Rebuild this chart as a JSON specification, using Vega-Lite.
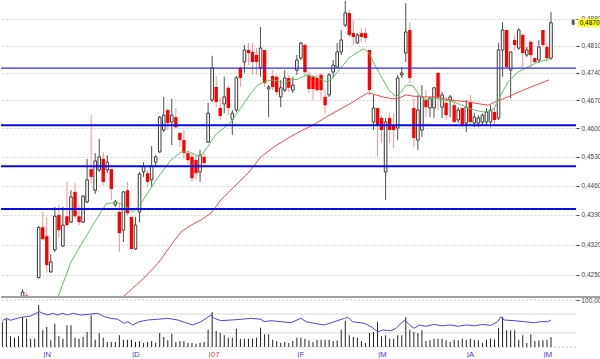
{
  "$schema": "https://vega.github.io/schema/vega-lite/v6.json",
  "padding": 0,
  "background": "white",
  "spacing": 3,
  "bounds": "flush",
  "config": {
    "view": {"stroke": null},
    "font": "Liberation Sans",
    "locale": {"number": {"decimal": ",", "thousands": ".", "grouping": [3], "currency": ["", ""]}}
  },
  "datasets": {
    "bars": [
      {"i":0,"o":0.4160,"h":0.4170,"l":0.4150,"c":0.4165,"v":2500},
      {"i":1,"o":0.4165,"h":0.4178,"l":0.4158,"c":0.4172,"v":2830},
      {"i":2,"o":0.4172,"h":0.4180,"l":0.4162,"c":0.4168,"v":1070},
      {"i":3,"o":0.4168,"h":0.4182,"l":0.4160,"c":0.4178,"v":930},
      {"i":4,"o":0.4178,"h":0.4190,"l":0.4170,"c":0.4185,"v":1070},
      {"i":5,"o":0.4185,"h":0.4218,"l":0.4180,"c":0.4211,"v":3000},
      {"i":6,"o":0.4203,"h":0.4209,"l":0.4180,"c":0.4188,"v":2830},
      {"i":7,"o":0.4188,"h":0.4195,"l":0.4175,"c":0.4190,"v":830},
      {"i":8,"o":0.4190,"h":0.4196,"l":0.4178,"c":0.4185,"v":830},
      {"i":9,"o":0.4244,"h":0.4364,"l":0.4242,"c":0.4360,"v":4170},
      {"i":10,"o":0.4361,"h":0.4397,"l":0.4331,"c":0.4333,"v":1670},
      {"i":11,"o":0.4340,"h":0.4385,"l":0.4255,"c":0.4273,"v":2000},
      {"i":12,"o":0.4257,"h":0.4298,"l":0.4255,"c":0.4280,"v":670},
      {"i":13,"o":0.4308,"h":0.4409,"l":0.4303,"c":0.4387,"v":2330},
      {"i":14,"o":0.4390,"h":0.4414,"l":0.4336,"c":0.4354,"v":1070},
      {"i":15,"o":0.4317,"h":0.4409,"l":0.4315,"c":0.4366,"v":830},
      {"i":16,"o":0.4387,"h":0.4469,"l":0.4361,"c":0.4366,"v":2170},
      {"i":17,"o":0.4373,"h":0.4449,"l":0.4371,"c":0.4433,"v":2170},
      {"i":18,"o":0.4445,"h":0.4466,"l":0.4383,"c":0.4387,"v":930},
      {"i":19,"o":0.4387,"h":0.4414,"l":0.4366,"c":0.4373,"v":830},
      {"i":20,"o":0.4373,"h":0.4437,"l":0.4371,"c":0.4435,"v":1000},
      {"i":21,"o":0.4421,"h":0.4525,"l":0.4418,"c":0.4474,"v":1500},
      {"i":22,"o":0.4500,"h":0.4633,"l":0.4466,"c":0.4481,"v":3170},
      {"i":23,"o":0.4449,"h":0.4539,"l":0.4440,"c":0.4520,"v":730},
      {"i":24,"o":0.4498,"h":0.4574,"l":0.4493,"c":0.4530,"v":1400},
      {"i":25,"o":0.4525,"h":0.4542,"l":0.4461,"c":0.4469,"v":930},
      {"i":26,"o":0.4498,"h":0.4534,"l":0.4490,"c":0.4517,"v":500},
      {"i":27,"o":0.4500,"h":0.4500,"l":0.4425,"c":0.4452,"v":500},
      {"i":28,"o":0.4414,"h":0.4426,"l":0.4409,"c":0.4421,"v":500},
      {"i":29,"o":0.4397,"h":0.4418,"l":0.4303,"c":0.4347,"v":1170},
      {"i":30,"o":0.4354,"h":0.4447,"l":0.4326,"c":0.4445,"v":730},
      {"i":31,"o":0.4449,"h":0.4469,"l":0.4390,"c":0.4394,"v":730},
      {"i":32,"o":0.4385,"h":0.4387,"l":0.4308,"c":0.4310,"v":730},
      {"i":33,"o":0.4310,"h":0.4385,"l":0.4308,"c":0.4366,"v":500},
      {"i":34,"o":0.4397,"h":0.4493,"l":0.4373,"c":0.4488,"v":570},
      {"i":35,"o":0.4493,"h":0.4517,"l":0.4481,"c":0.4507,"v":400},
      {"i":36,"o":0.4490,"h":0.4498,"l":0.4457,"c":0.4469,"v":500},
      {"i":37,"o":0.4474,"h":0.4556,"l":0.4457,"c":0.4507,"v":600},
      {"i":38,"o":0.4517,"h":0.4534,"l":0.4507,"c":0.4530,"v":430},
      {"i":39,"o":0.4542,"h":0.4631,"l":0.4539,"c":0.4628,"v":1400},
      {"i":40,"o":0.4596,"h":0.4679,"l":0.4591,"c":0.4633,"v":1000},
      {"i":41,"o":0.4646,"h":0.4651,"l":0.4596,"c":0.4613,"v":670},
      {"i":42,"o":0.4616,"h":0.4674,"l":0.4559,"c":0.4633,"v":1330},
      {"i":43,"o":0.4628,"h":0.4651,"l":0.4601,"c":0.4603,"v":500},
      {"i":44,"o":0.4589,"h":0.4591,"l":0.4554,"c":0.4571,"v":600},
      {"i":45,"o":0.4571,"h":0.4596,"l":0.4527,"c":0.4539,"v":570},
      {"i":46,"o":0.4539,"h":0.4547,"l":0.4510,"c":0.4522,"v":430},
      {"i":47,"o":0.4530,"h":0.4539,"l":0.4469,"c":0.4478,"v":400},
      {"i":48,"o":0.4522,"h":0.4534,"l":0.4474,"c":0.4490,"v":330},
      {"i":49,"o":0.4493,"h":0.4547,"l":0.4469,"c":0.4534,"v":430},
      {"i":50,"o":0.4530,"h":0.4539,"l":0.4507,"c":0.4515,"v":500},
      {"i":51,"o":0.4566,"h":0.4664,"l":0.4564,"c":0.4638,"v":1730},
      {"i":52,"o":0.4671,"h":0.4784,"l":0.4666,"c":0.4753,"v":3500},
      {"i":53,"o":0.4704,"h":0.4732,"l":0.4653,"c":0.4666,"v":1600},
      {"i":54,"o":0.4651,"h":0.4676,"l":0.4621,"c":0.4631,"v":1400},
      {"i":55,"o":0.4661,"h":0.4730,"l":0.4638,"c":0.4679,"v":1170},
      {"i":56,"o":0.4702,"h":0.4707,"l":0.4633,"c":0.4651,"v":930},
      {"i":57,"o":0.4623,"h":0.4646,"l":0.4584,"c":0.4638,"v":930},
      {"i":58,"o":0.4646,"h":0.4732,"l":0.4641,"c":0.4727,"v":1830},
      {"i":59,"o":0.4753,"h":0.4758,"l":0.4704,"c":0.4727,"v":830},
      {"i":60,"o":0.4768,"h":0.4812,"l":0.4740,"c":0.4799,"v":830},
      {"i":61,"o":0.4799,"h":0.4817,"l":0.4760,"c":0.4791,"v":830},
      {"i":62,"o":0.4794,"h":0.4817,"l":0.4735,"c":0.4768,"v":830},
      {"i":63,"o":0.4786,"h":0.4804,"l":0.4735,"c":0.4768,"v":930},
      {"i":64,"o":0.4753,"h":0.4859,"l":0.4730,"c":0.4804,"v":1930},
      {"i":65,"o":0.4799,"h":0.4799,"l":0.4704,"c":0.4714,"v":1270},
      {"i":66,"o":0.4699,"h":0.4709,"l":0.4628,"c":0.4704,"v":1270},
      {"i":67,"o":0.4732,"h":0.4747,"l":0.4696,"c":0.4704,"v":730},
      {"i":68,"o":0.4730,"h":0.4735,"l":0.4684,"c":0.4691,"v":600},
      {"i":69,"o":0.4679,"h":0.4722,"l":0.4653,"c":0.4702,"v":430},
      {"i":70,"o":0.4696,"h":0.4747,"l":0.4691,"c":0.4727,"v":500},
      {"i":71,"o":0.4727,"h":0.4735,"l":0.4691,"c":0.4702,"v":400},
      {"i":72,"o":0.4696,"h":0.4730,"l":0.4689,"c":0.4709,"v":600},
      {"i":73,"o":0.4747,"h":0.4786,"l":0.4735,"c":0.4773,"v":930},
      {"i":74,"o":0.4778,"h":0.4820,"l":0.4773,"c":0.4817,"v":930},
      {"i":75,"o":0.4812,"h":0.4817,"l":0.4730,"c":0.4742,"v":830},
      {"i":76,"o":0.4735,"h":0.4742,"l":0.4689,"c":0.4699,"v":670},
      {"i":77,"o":0.4730,"h":0.4735,"l":0.4671,"c":0.4699,"v":500},
      {"i":78,"o":0.4727,"h":0.4735,"l":0.4691,"c":0.4696,"v":730},
      {"i":79,"o":0.4735,"h":0.4740,"l":0.4671,"c":0.4696,"v":730},
      {"i":80,"o":0.4679,"h":0.4696,"l":0.4638,"c":0.4658,"v":730},
      {"i":81,"o":0.4684,"h":0.4740,"l":0.4679,"c":0.4735,"v":730},
      {"i":82,"o":0.4742,"h":0.4773,"l":0.4727,"c":0.4760,"v":600},
      {"i":83,"o":0.4755,"h":0.4817,"l":0.4753,"c":0.4794,"v":670},
      {"i":84,"o":0.4794,"h":0.4851,"l":0.4786,"c":0.4825,"v":1730},
      {"i":85,"o":0.4864,"h":0.4928,"l":0.4859,"c":0.4896,"v":2600},
      {"i":86,"o":0.4896,"h":0.4904,"l":0.4833,"c":0.4838,"v":1170},
      {"i":87,"o":0.4843,"h":0.4877,"l":0.4812,"c":0.4833,"v":1000},
      {"i":88,"o":0.4817,"h":0.4843,"l":0.4815,"c":0.4838,"v":930},
      {"i":89,"o":0.4843,"h":0.4856,"l":0.4820,"c":0.4833,"v":600},
      {"i":90,"o":0.4843,"h":0.4856,"l":0.4820,"c":0.4830,"v":400},
      {"i":91,"o":0.4799,"h":0.4799,"l":0.4684,"c":0.4696,"v":1400},
      {"i":92,"o":0.4616,"h":0.4684,"l":0.4596,"c":0.4651,"v":1500},
      {"i":93,"o":0.4651,"h":0.4651,"l":0.4530,"c":0.4608,"v":2500},
      {"i":94,"o":0.4626,"h":0.4633,"l":0.4564,"c":0.4596,"v":1070},
      {"i":95,"o":0.4493,"h":0.4626,"l":0.4426,"c":0.4616,"v":1170},
      {"i":96,"o":0.4626,"h":0.4638,"l":0.4564,"c":0.4596,"v":830},
      {"i":97,"o":0.4608,"h":0.4638,"l":0.4551,"c":0.4596,"v":830},
      {"i":98,"o":0.4601,"h":0.4735,"l":0.4571,"c":0.4727,"v":1170},
      {"i":99,"o":0.4735,"h":0.4755,"l":0.4727,"c":0.4740,"v":1170},
      {"i":100,"o":0.4791,"h":0.4922,"l":0.4768,"c":0.4846,"v":3000},
      {"i":101,"o":0.4851,"h":0.4872,"l":0.4714,"c":0.4727,"v":1730},
      {"i":102,"o":0.4651,"h":0.4676,"l":0.4554,"c":0.4576,"v":1500},
      {"i":103,"o":0.4571,"h":0.4684,"l":0.4547,"c":0.4646,"v":1400},
      {"i":104,"o":0.4596,"h":0.4709,"l":0.4579,"c":0.4679,"v":1670},
      {"i":105,"o":0.4671,"h":0.4696,"l":0.4628,"c":0.4653,"v":600},
      {"i":106,"o":0.4651,"h":0.4679,"l":0.4628,"c":0.4676,"v":670},
      {"i":107,"o":0.4651,"h":0.4704,"l":0.4626,"c":0.4702,"v":830},
      {"i":108,"o":0.4740,"h":0.4742,"l":0.4646,"c":0.4679,"v":830},
      {"i":109,"o":0.4653,"h":0.4691,"l":0.4626,"c":0.4684,"v":830},
      {"i":110,"o":0.4664,"h":0.4679,"l":0.4621,"c":0.4633,"v":670},
      {"i":111,"o":0.4671,"h":0.4684,"l":0.4628,"c":0.4679,"v":500},
      {"i":112,"o":0.4658,"h":0.4671,"l":0.4613,"c":0.4616,"v":730},
      {"i":113,"o":0.4621,"h":0.4653,"l":0.4613,"c":0.4646,"v":670},
      {"i":114,"o":0.4651,"h":0.4651,"l":0.4603,"c":0.4608,"v":830},
      {"i":115,"o":0.4613,"h":0.4671,"l":0.4591,"c":0.4653,"v":730},
      {"i":116,"o":0.4666,"h":0.4684,"l":0.4608,"c":0.4616,"v":830},
      {"i":117,"o":0.4613,"h":0.4638,"l":0.4603,"c":0.4628,"v":730},
      {"i":118,"o":0.4613,"h":0.4633,"l":0.4603,"c":0.4626,"v":670},
      {"i":119,"o":0.4616,"h":0.4638,"l":0.4608,"c":0.4633,"v":400},
      {"i":120,"o":0.4616,"h":0.4651,"l":0.4608,"c":0.4641,"v":730},
      {"i":121,"o":0.4616,"h":0.4658,"l":0.4603,"c":0.4646,"v":830},
      {"i":122,"o":0.4641,"h":0.4653,"l":0.4608,"c":0.4621,"v":730},
      {"i":123,"o":0.4626,"h":0.4817,"l":0.4621,"c":0.4799,"v":1930},
      {"i":124,"o":0.4799,"h":0.4872,"l":0.4730,"c":0.4851,"v":3000},
      {"i":125,"o":0.4851,"h":0.4851,"l":0.4753,"c":0.4755,"v":1670},
      {"i":126,"o":0.4747,"h":0.4794,"l":0.4676,"c":0.4794,"v":1670},
      {"i":127,"o":0.4825,"h":0.4838,"l":0.4799,"c":0.4812,"v":1670},
      {"i":128,"o":0.4804,"h":0.4856,"l":0.4799,"c":0.4851,"v":730},
      {"i":129,"o":0.4838,"h":0.4843,"l":0.4755,"c":0.4791,"v":1170},
      {"i":130,"o":0.4786,"h":0.4807,"l":0.4781,"c":0.4799,"v":400},
      {"i":131,"o":0.4820,"h":0.4825,"l":0.4755,"c":0.4786,"v":1270},
      {"i":132,"o":0.4778,"h":0.4781,"l":0.4765,"c":0.4768,"v":600},
      {"i":133,"o":0.4773,"h":0.4825,"l":0.4765,"c":0.4807,"v":670},
      {"i":134,"o":0.4851,"h":0.4851,"l":0.4807,"c":0.4812,"v":670},
      {"i":135,"o":0.4807,"h":0.4817,"l":0.4768,"c":0.4778,"v":730},
      {"i":136,"o":0.4778,"h":0.4898,"l":0.4773,"c":0.4870,"v":1000}
    ],
    "maFast": [
      {"i":12.5,"p":0.4160},{"i":13.8,"p":0.4200},{"i":17,"p":0.4280},{"i":20.2,"p":0.4331},{"i":23.2,"p":0.4378},{"i":25.7,"p":0.4416},{"i":28.2,"p":0.4421},{"i":30.4,"p":0.4411},{"i":32.4,"p":0.4397},{"i":34.4,"p":0.4418},{"i":36.8,"p":0.4454},{"i":39.3,"p":0.4490},{"i":41.8,"p":0.4522},{"i":44.3,"p":0.4542},{"i":46.3,"p":0.4542},{"i":48,"p":0.4534},{"i":49.2,"p":0.4532},{"i":51,"p":0.4556},{"i":53,"p":0.4586},{"i":54.9,"p":0.4601},{"i":56.7,"p":0.4616},{"i":58.4,"p":0.4641},{"i":60.1,"p":0.4666},{"i":61.6,"p":0.4689},{"i":63.4,"p":0.4709},{"i":64.9,"p":0.4717},{"i":66.6,"p":0.4722},{"i":68.3,"p":0.4719},{"i":70.1,"p":0.4714},{"i":71.5,"p":0.4722},{"i":73.3,"p":0.4724},{"i":75.3,"p":0.4735},{"i":77.7,"p":0.4730},{"i":80.2,"p":0.4717},{"i":81.9,"p":0.4727},{"i":83.9,"p":0.4753},{"i":85.9,"p":0.4778},{"i":87.7,"p":0.4791},{"i":89.6,"p":0.4802},{"i":90.9,"p":0.4791},{"i":92.6,"p":0.4755},{"i":94.4,"p":0.4722},{"i":95.8,"p":0.4696},{"i":97.6,"p":0.4679},{"i":98.8,"p":0.4691},{"i":100.1,"p":0.4709},{"i":101.8,"p":0.4707},{"i":103.3,"p":0.4684},{"i":105,"p":0.4671},{"i":107,"p":0.4676},{"i":109.5,"p":0.4671},{"i":112,"p":0.4666},{"i":114.4,"p":0.4656},{"i":116.9,"p":0.4646},{"i":119.4,"p":0.4641},{"i":121.1,"p":0.4643},{"i":122.1,"p":0.4653},{"i":123.6,"p":0.4684},{"i":125.3,"p":0.4717},{"i":127.8,"p":0.4742},{"i":130.3,"p":0.4755},{"i":132.8,"p":0.4768},{"i":134.8,"p":0.4773},{"i":135.8,"p":0.4778}
    ],
    "maSlow": [
      {"i":28,"p":0.4170},{"i":29.9,"p":0.4200},{"i":32.6,"p":0.4222},{"i":35.1,"p":0.4243},{"i":38.6,"p":0.4277},{"i":41.8,"p":0.4319},{"i":44.3,"p":0.4350},{"i":46.8,"p":0.4366},{"i":49.2,"p":0.4378},{"i":51.7,"p":0.4394},{"i":54.2,"p":0.4426},{"i":57.4,"p":0.4457},{"i":60.9,"p":0.4490},{"i":64.1,"p":0.4530},{"i":67.3,"p":0.4554},{"i":70.8,"p":0.4576},{"i":73.5,"p":0.4591},{"i":77,"p":0.4608},{"i":80.2,"p":0.4628},{"i":83.4,"p":0.4646},{"i":86.9,"p":0.4666},{"i":88.9,"p":0.4679},{"i":90.6,"p":0.4689},{"i":91.9,"p":0.4686},{"i":94.3,"p":0.4679},{"i":96.8,"p":0.4674},{"i":98.3,"p":0.4676},{"i":100.1,"p":0.4684},{"i":101.8,"p":0.4681},{"i":103.8,"p":0.4679},{"i":107,"p":0.4679},{"i":111.2,"p":0.4671},{"i":115.4,"p":0.4666},{"i":120.4,"p":0.4658},{"i":122.9,"p":0.4669},{"i":125.3,"p":0.4679},{"i":128.6,"p":0.4694},{"i":131.8,"p":0.4707},{"i":135.5,"p":0.4722}
    ],
    "osc": [
      {"i":0,"r":56},{"i":1,"r":61},{"i":2,"r":57},{"i":4.6,"r":63},{"i":5.9,"r":64.5},{"i":7.1,"r":66},{"i":8.3,"r":71.7},{"i":9.2,"r":75},{"i":10,"r":71.7},{"i":11.2,"r":68},{"i":12.5,"r":71.7},{"i":13.7,"r":68},{"i":14.9,"r":71.7},{"i":16.2,"r":68},{"i":17.4,"r":71.7},{"i":19.5,"r":68},{"i":21.5,"r":69.6},{"i":23.6,"r":71.7},{"i":25.3,"r":64.5},{"i":26.9,"r":61},{"i":28.6,"r":59},{"i":30.2,"r":50.4},{"i":31.1,"r":53.8},{"i":32.3,"r":46.8},{"i":33.9,"r":53.8},{"i":36,"r":57.4},{"i":38.5,"r":59},{"i":41,"r":61},{"i":43.5,"r":57.4},{"i":45.9,"r":50.4},{"i":47.2,"r":46.8},{"i":49.2,"r":53.8},{"i":50.5,"r":61},{"i":51.7,"r":68},{"i":52.5,"r":61},{"i":54.2,"r":56},{"i":56.7,"r":57.4},{"i":59.2,"r":59},{"i":61.6,"r":61},{"i":64.1,"r":59},{"i":64.9,"r":53.8},{"i":66.6,"r":56},{"i":69.1,"r":53.8},{"i":71.5,"r":51.7},{"i":74,"r":61},{"i":75.3,"r":53.8},{"i":77.3,"r":50.4},{"i":79.8,"r":46.8},{"i":82.3,"r":53.8},{"i":84.8,"r":61},{"i":85.6,"r":63.2},{"i":86.8,"r":53.8},{"i":89.7,"r":50.4},{"i":91.4,"r":43.2},{"i":93,"r":32.6},{"i":94.3,"r":36.2},{"i":96.3,"r":34.7},{"i":97.6,"r":39.8},{"i":98.8,"r":50.4},{"i":99.8,"r":57.4},{"i":100.9,"r":46.8},{"i":102.1,"r":39.8},{"i":103.4,"r":46.8},{"i":105,"r":44},{"i":107,"r":48},{"i":109,"r":45},{"i":111,"r":47},{"i":113,"r":44},{"i":115,"r":47},{"i":117,"r":45},{"i":119,"r":48},{"i":121,"r":46},{"i":122.8,"r":53.8},{"i":123.6,"r":64.5},{"i":124.4,"r":57.4},{"i":126.9,"r":56},{"i":129.4,"r":53.8},{"i":131.9,"r":51.7},{"i":133.5,"r":53.8},{"i":135.2,"r":53.8},{"i":136,"r":57.4}
    ]
  },
  "vconcat": [
    {
      "width": 575,
      "height": 297,
      "layer": [
        {
          "data": {"name": "bars"},
          "mark": {"type": "rule", "strokeWidth": 1, "clip": true},
          "encoding": {
            "x": {"field": "i", "type": "quantitative", "scale": {"domain": [-0.345, 142.2], "nice": false, "zero": false, "padding": 0},
                  "axis": null},
            "y": {"field": "l", "type": "quantitative", "scale": {"type": "log", "domain": [0.41997, 0.49303], "nice": false, "padding": 0},
                  "axis": {"title": null, "orient": "right", "values": [0.425, 0.432, 0.439, 0.446, 0.453, 0.46, 0.467, 0.474, 0.481, 0.488],
                           "format": ".4f", "domain": false, "tickSize": 3, "tickColor": "#444444", "labelPadding": 2,
                           "labelFontSize": 6.5, "labelColor": "#444444", "labelFont": "Liberation Sans",
                           "grid": true, "gridDash": [2, 2], "gridColor": "#d0d0d0"}},
            "y2": {"field": "h"},
            "color": {"condition": {"test": "datum.c >= datum.o", "value": "#505050"}, "value": "#ff9090"}
          }
        },
        {
          "data": {"name": "bars"},
          "transform": [{"filter": "datum.c >= datum.o"}],
          "mark": {"type": "bar", "width": 2.6, "fill": "white", "stroke": "#3a3a3a", "strokeWidth": 1, "clip": true},
          "encoding": {
            "x": {"field": "i", "type": "quantitative"},
            "y": {"field": "o", "type": "quantitative"},
            "y2": {"field": "c"}
          }
        },
        {
          "data": {"name": "bars"},
          "transform": [{"filter": "datum.c < datum.o"}],
          "mark": {"type": "bar", "width": 3.4, "fill": "#ff0000", "clip": true},
          "encoding": {
            "x": {"field": "i", "type": "quantitative"},
            "y": {"field": "o", "type": "quantitative"},
            "y2": {"field": "c"}
          }
        },
        {
          "data": {"name": "maSlow"},
          "mark": {"type": "line", "color": "#ee4a4a", "strokeWidth": 1, "clip": true},
          "encoding": {
            "x": {"field": "i", "type": "quantitative"},
            "y": {"field": "p", "type": "quantitative"}
          }
        },
        {
          "data": {"name": "maFast"},
          "mark": {"type": "line", "color": "#5cc45c", "strokeWidth": 1, "clip": true},
          "encoding": {
            "x": {"field": "i", "type": "quantitative"},
            "y": {"field": "p", "type": "quantitative"}
          }
        },
        {
          "data": {"values": [{"p": 0.4752}]},
          "mark": {"type": "rule", "color": "#2a2aff", "strokeWidth": 1.2},
          "encoding": {"y": {"field": "p", "type": "quantitative"}}
        },
        {
          "data": {"values": [{"p": 0.4608}, {"p": 0.4507}, {"p": 0.4404}]},
          "mark": {"type": "rule", "color": "#0a0aee", "strokeWidth": 2},
          "encoding": {"y": {"field": "p", "type": "quantitative"}}
        },
        {
          "data": {"values": [{"p": 0.41997}]},
          "mark": {"type": "rule", "color": "#a0a0a0", "strokeWidth": 2, "clip": false},
          "encoding": {
            "x": {"datum": -0.345},
            "x2": {"datum": 148.8},
            "y": {"field": "p", "type": "quantitative"}
          }
        },
        {
          "data": {"name": "bars"},
          "transform": [{"filter": "datum.i == 136"}],
          "mark": {"type": "bar", "orient": "horizontal", "height": 8, "color": "#ffff00", "clip": false},
          "encoding": {
            "x": {"datum": 142.7},
            "x2": {"datum": 148.8},
            "y": {"field": "c", "type": "quantitative"}
          }
        },
        {
          "data": {"name": "bars"},
          "transform": [{"filter": "datum.i == 136"}],
          "mark": {"type": "text", "align": "left", "baseline": "middle", "fontSize": 6.5, "font": "Liberation Sans", "color": "#000000", "clip": false},
          "encoding": {
            "x": {"datum": 143.1},
            "y": {"field": "c", "type": "quantitative"},
            "text": {"field": "c", "type": "quantitative", "format": ".4f"}
          }
        },
        {
          "data": {"name": "bars"},
          "transform": [{"filter": "datum.i == 136"}],
          "mark": {"type": "text", "align": "center", "baseline": "middle", "fontSize": 8, "font": "DejaVu Sans", "color": "#000000", "clip": false},
          "encoding": {
            "x": {"datum": 141.5},
            "y": {"field": "c", "type": "quantitative"},
            "text": {"value": "⇟"}
          }
        }
      ]
    },
    {
      "width": 575,
      "height": 47,
      "layer": [
        {
          "data": {"values": [{"r": 70}, {"r": 30}]},
          "mark": {"type": "rule", "color": "#d8d8d8", "strokeWidth": 1},
          "encoding": {"y": {"field": "r", "type": "quantitative", "scale": {"domain": [0, 100], "nice": false}, "axis": null}}
        },
        {
          "data": {"values": [{"r": 100}, {"r": 0}]},
          "mark": {"type": "rule", "color": "#cccccc", "strokeWidth": 1, "strokeDash": [2, 2]},
          "encoding": {"y": {"field": "r", "type": "quantitative", "scale": {"domain": [0, 100], "nice": false}, "axis": null}}
        },
        {
          "data": {"name": "bars"},
          "mark": {"type": "bar", "width": 1, "color": "#222222", "clip": true},
          "encoding": {
            "x": {"field": "i", "type": "quantitative", "scale": {"domain": [-0.345, 142.2], "nice": false, "zero": false, "padding": 0},
                  "axis": {"title": null, "values": [10, 32, 51, 73, 93, 115, 134],
                           "labelExpr": "datum.value==10?'|N':datum.value==32?'|D':datum.value==51?'|07':datum.value==73?'|F':datum.value==93?'|M':datum.value==115?'|A':'|M'",
                           "labelAlign": "left", "labelBaseline": "top", "labelPadding": 3, "labelFontSize": 8, "labelFont": "Liberation Sans",
                           "labelFlush": false,
                           "labelColor": {"condition": {"test": "datum.value==51", "value": "#e8402a"}, "value": "#3c3cdc"},
                           "ticks": false, "domain": false, "grid": false}},
            "y": {"field": "v", "type": "quantitative", "scale": {"domain": [0, 4700], "nice": false, "padding": 0}, "axis": null}
          }
        },
        {
          "data": {"name": "osc"},
          "mark": {"type": "line", "color": "#4646ee", "strokeWidth": 1, "clip": true},
          "encoding": {
            "x": {"field": "i", "type": "quantitative"},
            "y": {"field": "r", "type": "quantitative", "scale": {"domain": [0, 100], "nice": false},
                  "axis": {"title": null, "orient": "right", "values": [100], "format": ".2f", "domain": false, "grid": false,
                           "tickSize": 3, "tickColor": "#444444", "labelPadding": 2, "labelFontSize": 6.5, "labelColor": "#444444",
                           "labelFont": "Liberation Sans"}}
          }
        }
      ],
      "resolve": {"scale": {"y": "independent"}}
    }
  ]
}
